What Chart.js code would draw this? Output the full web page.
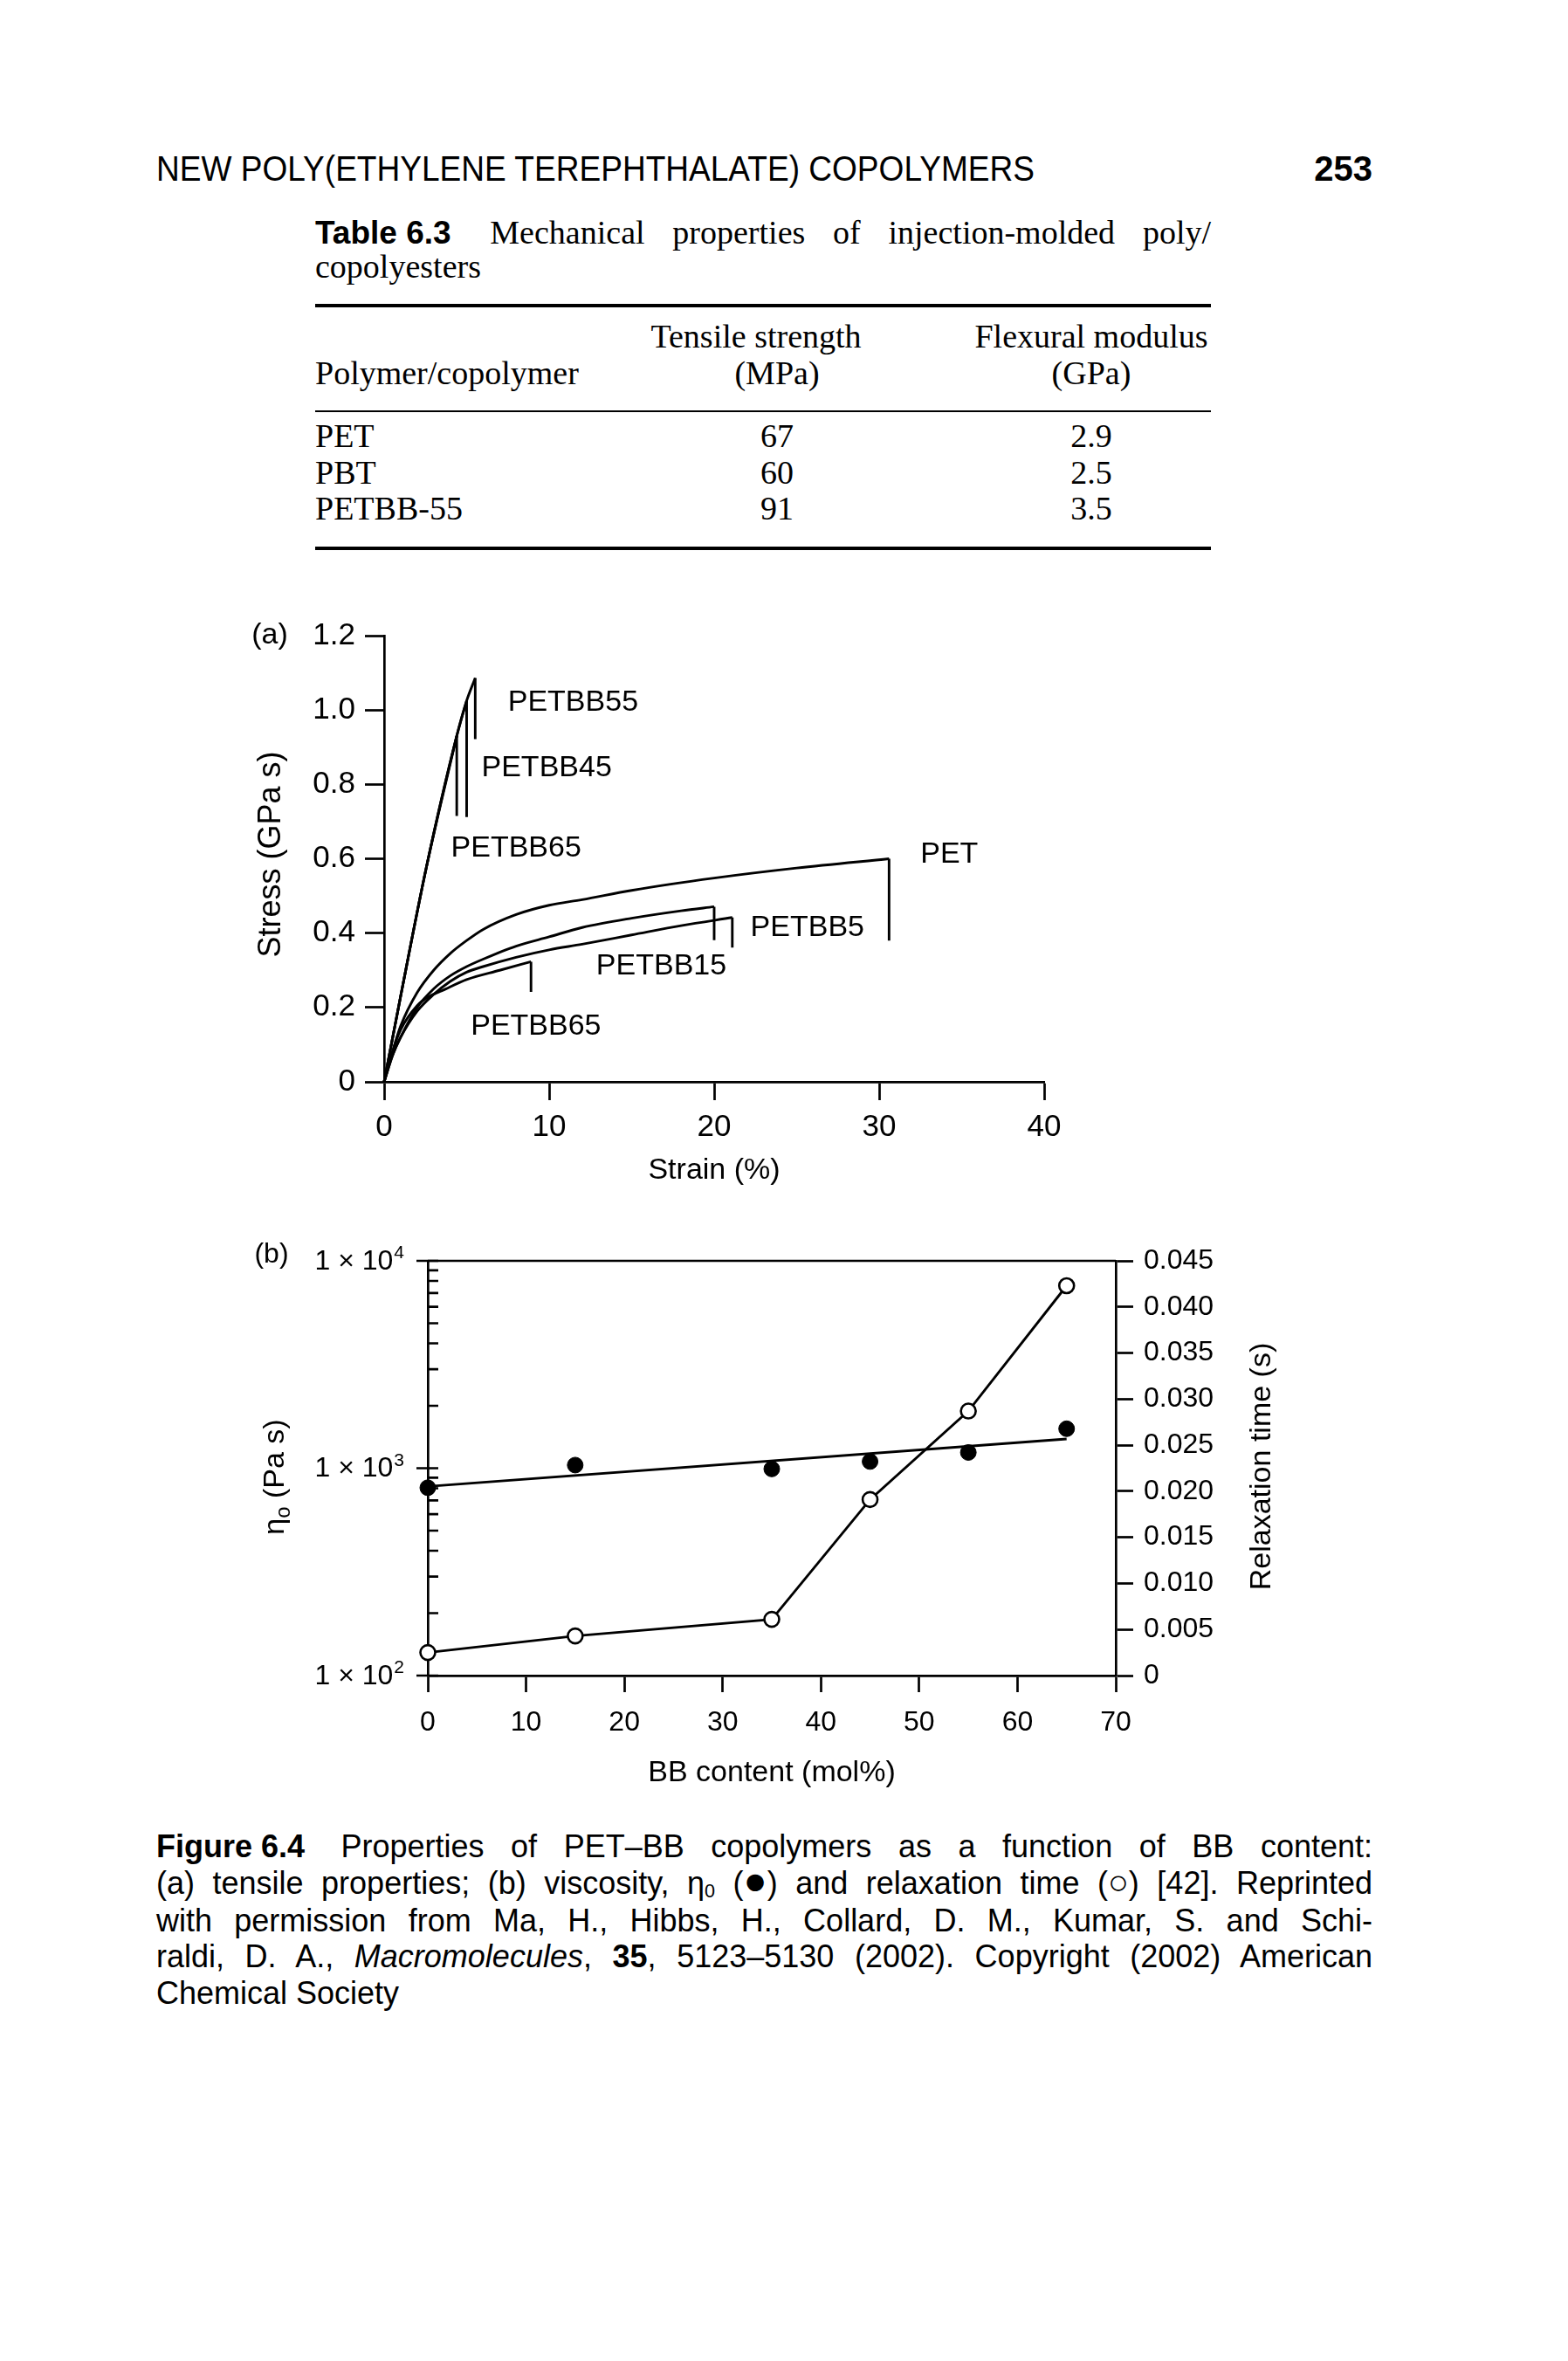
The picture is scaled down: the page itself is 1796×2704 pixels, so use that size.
<!DOCTYPE html>
<html>
<head>
<meta charset="utf-8">
<script src="https://cdn.jsdelivr.net/npm/chart.js@4.4.1/dist/chart.umd.min.js"></script>
<style>
  html, body { margin: 0; padding: 0; background: #fff; }
  body { width: 1796px; height: 2704px; position: relative; overflow: hidden; color: #000; }
  .t { position: absolute; white-space: nowrap; line-height: 1; transform-origin: 0 0; }
  .sans { font-family: "Liberation Sans", Arial, sans-serif; }
  .serif { font-family: "Liberation Serif", "Times New Roman", serif; }
  .ns { word-spacing: 0; }
  .rule { position: absolute; background: #000; left: 361px; width: 1026px; }
  canvas { position: absolute; }
</style>
</head>
<body>

<!-- running head -->
<div class="t sans" data-x="179" data-base="207" data-fs="40" data-fit="1006">NEW POLY(ETHYLENE TEREPHTHALATE) COPOLYMERS</div>
<div class="t sans" data-x="1572" data-base="207" data-fs="40" data-align="right"><b>253</b></div>

<!-- table 6.3 -->
<div class="t serif" data-x="361" data-base="279" data-fs="38" data-just="1026"><b class="sans ns" style="font-size:37px;margin-right:0.35em">Table 6.3</b> Mechanical properties of injection-molded poly/</div>
<div class="t serif" data-x="361" data-base="318" data-fs="38">copolyesters</div>
<div class="rule" style="top:348px;height:4px"></div>
<div class="t serif" data-x="866" data-base="398" data-fs="38" data-align="center">Tensile strength</div>
<div class="t serif" data-x="1250" data-base="398" data-fs="38" data-align="center">Flexural modulus</div>
<div class="t serif" data-x="361" data-base="440" data-fs="38">Polymer/copolymer</div>
<div class="t serif" data-x="890" data-base="440" data-fs="38" data-align="center">(MPa)</div>
<div class="t serif" data-x="1250" data-base="440" data-fs="38" data-align="center">(GPa)</div>
<div class="rule" style="top:470px;height:2px"></div>
<div class="t serif" data-x="361" data-base="512" data-fs="38">PET</div>
<div class="t serif" data-x="890" data-base="512" data-fs="38" data-align="center">67</div>
<div class="t serif" data-x="1250" data-base="512" data-fs="38" data-align="center">2.9</div>
<div class="t serif" data-x="361" data-base="554" data-fs="38">PBT</div>
<div class="t serif" data-x="890" data-base="554" data-fs="38" data-align="center">60</div>
<div class="t serif" data-x="1250" data-base="554" data-fs="38" data-align="center">2.5</div>
<div class="t serif" data-x="361" data-base="595" data-fs="38">PETBB-55</div>
<div class="t serif" data-x="890" data-base="595" data-fs="38" data-align="center">91</div>
<div class="t serif" data-x="1250" data-base="595" data-fs="38" data-align="center">3.5</div>
<div class="rule" style="top:626px;height:4px"></div>

<canvas id="chartA" width="1000" height="700" style="left:250px;top:690px"></canvas>
<canvas id="chartB" width="1300" height="680" style="left:250px;top:1400px"></canvas>

<!-- figure caption -->
<div class="t sans cap" data-x="179" data-base="2127" data-fs="36" data-just="1393"><b class="ns" style="margin-right:0.3em">Figure 6.4</b> Properties of PET–BB copolymers as a function of BB content:</div>
<div class="t sans cap" data-x="179" data-base="2169" data-fs="36" data-just="1393">(a) tensile properties; (b) viscosity, η<span style="font-size:0.6em;vertical-align:-0.2em">0</span> (<span style="font-size:1.25em;line-height:0">●</span>) and relaxation time (<span style="font-size:1.1em;line-height:0">○</span>) [42]. Reprinted</div>
<div class="t sans cap" data-x="179" data-base="2212" data-fs="36" data-just="1393">with permission from Ma, H., Hibbs, H., Collard, D. M., Kumar, S. and Schi-</div>
<div class="t sans cap" data-x="179" data-base="2253" data-fs="36" data-just="1393">raldi, D. A., <i>Macromolecules</i>, <b>35</b>, 5123–5130 (2002). Copyright (2002) American</div>
<div class="t sans cap" data-x="179" data-base="2295" data-fs="36">Chemical Society</div>

<script>
// ---- (a) stress-strain curves: strain (%), stress (GPa) ----
const petStrain  = [0, 0.5, 1, 2, 3, 4, 5, 6, 8, 10, 12, 15, 20, 25, 30.6];
const petStress  = [0, 0.08, 0.15, 0.24, 0.30, 0.345, 0.38, 0.41, 0.45, 0.475, 0.49, 0.515, 0.548, 0.575, 0.60];
const petDrop = 0.38;

const bb5Strain  = [0, 0.5, 1, 2, 3, 4, 5, 6, 8, 10, 12, 15, 18, 20];
const bb5Stress  = [0, 0.07, 0.12, 0.20, 0.25, 0.285, 0.31, 0.33, 0.365, 0.39, 0.415, 0.44, 0.46, 0.471];
const bb5Drop = 0.381;

const bb15Strain = [0, 0.5, 1, 2, 3, 4, 5, 6, 8, 10, 12, 15, 18, 21.1];
const bb15Stress = [0, 0.07, 0.12, 0.19, 0.235, 0.27, 0.295, 0.31, 0.335, 0.355, 0.37, 0.395, 0.42, 0.442];
const bb15Drop = 0.361;

const bb65Strain = [0, 0.5, 1, 2, 2.75, 3.5, 5, 7, 8.9];
const bb65Stress = [0, 0.08, 0.14, 0.205, 0.23, 0.245, 0.275, 0.30, 0.323];
const bb65Drop = 0.242;

const bb65hStrain = [0, 1, 2.56, 4.4];
const bb65hStress = [0, 0.23, 0.577, 0.93];
const bb65hDrop = 0.715;

const bb45Strain = [0, 1, 2.56, 4.4, 5.0];
const bb45Stress = [0, 0.23, 0.577, 0.93, 1.025];
const bb45Drop = 0.712;

const bb55Strain = [0, 1, 2.56, 4.4, 5.0, 5.52];
const bb55Stress = [0, 0.23, 0.577, 0.93, 1.025, 1.086];
const bb55Drop = 0.922;

const curveLabels = ['PETBB55', 'PETBB45', 'PETBB65', 'PET', 'PETBB5', 'PETBB15', 'PETBB65'];
const labelStrain = [7.5, 5.9, 4.05, 32.5, 22.2, 12.85, 5.25];
const labelStress = [1.02, 0.845, 0.628, 0.612, 0.414, 0.312, 0.15];

// ---- (b) viscosity and relaxation time vs BB content ----
const bbContent = [0, 15, 35, 45, 55, 65];
const viscosity = [805, 1035, 992, 1077, 1191, 1550];   // Pa s
const relaxTime = [0.0025, 0.0043, 0.0061, 0.0191, 0.0287, 0.0423]; // s
const fitContent = [0, 65];
const fitViscosity = [817, 1384];
const etaTickValues = [100, 1000, 10000];
const etaTickExp = ['2', '3', '4'];

// ---- text layout ----
const capLines = [...document.querySelectorAll('.cap')];
capLines.forEach(el => { el.style.fontSize = el.dataset.fs + 'px'; });
const capW2 = capLines[1].getBoundingClientRect().width;
const capScale = Math.min(1, 1393 / capW2 * 0.99);
capLines.forEach(el => { el.dataset.sx = capScale; });

document.querySelectorAll('.t').forEach(el => {
  const d = el.dataset, fs = +d.fs;
  el.style.fontSize = fs + 'px';
  const k = el.classList.contains('serif') ? 0.838 : 0.847;
  el.style.top = (+d.base - k * fs) + 'px';
  let sx = d.sx ? +d.sx : 1;
  if (d.just) {
    const target = +d.just / sx;
    el.style.wordSpacing = '0px';
    const w0 = el.getBoundingClientRect().width;
    el.style.wordSpacing = '10px';
    const w1 = el.getBoundingClientRect().width;
    el.style.wordSpacing = (10 * (target - w0) / (w1 - w0)) + 'px';
  }
  const w = el.getBoundingClientRect().width;
  if (d.fit) sx = +d.fit / w;
  let left = +d.x;
  if (d.align === 'center') left -= w * sx / 2;
  if (d.align === 'right') left -= w * sx;
  el.style.left = left + 'px';
  if (sx !== 1) el.style.transform = 'scaleX(' + sx + ')';
});

// ---- charts ----
const FONT = '"Liberation Sans", Arial, sans-serif';
const LW = 2.9;   // data lines
const AW = 2.7;   // axes and ticks

const curvesA = [
  { strain: petStrain, stress: petStress, drop: petDrop },
  { strain: bb5Strain, stress: bb5Stress, drop: bb5Drop },
  { strain: bb15Strain, stress: bb15Stress, drop: bb15Drop },
  { strain: bb65Strain, stress: bb65Stress, drop: bb65Drop },
  { strain: bb65hStrain, stress: bb65hStress, drop: bb65hDrop },
  { strain: bb45Strain, stress: bb45Stress, drop: bb45Drop },
  { strain: bb55Strain, stress: bb55Stress, drop: bb55Drop }
];

const lineStyle = { showLine: true, borderColor: '#000', borderWidth: LW, pointRadius: 0, fill: false, clip: false };
const dsA = [];
curvesA.forEach(c => {
  const n = c.strain.length - 1;
  dsA.push({ ...lineStyle, cubicInterpolationMode: 'monotone',
    data: c.strain.map((x, i) => ({ x: x, y: c.stress[i] })) });
  dsA.push({ ...lineStyle, tension: 0,
    data: [{ x: c.strain[n], y: c.stress[n] }, { x: c.strain[n], y: c.drop }] });
});

const axisGrid = (len) => ({ drawOnChartArea: false, tickLength: len, tickWidth: AW, tickColor: '#000', color: '#000' });
const axisBorder = { color: '#000', width: AW };

const annotA = {
  id: 'annotA',
  afterDraw(chart) {
    const { ctx, chartArea: a, scales: { x, y } } = chart;
    ctx.save();
    ctx.fillStyle = '#000';
    ctx.font = '34px ' + FONT;
    ctx.textBaseline = 'middle';
    ctx.textAlign = 'left';
    curveLabels.forEach((t, i) => {
      ctx.fillText(t, x.getPixelForValue(labelStrain[i]), y.getPixelForValue(labelStress[i]));
    });
    ctx.textAlign = 'center';
    ctx.fillText('Strain (%)', (a.left + a.right) / 2, a.bottom + 102);
    ctx.fillText('(a)', a.left - 131, a.top);
    ctx.translate(a.left - 129, (a.top + a.bottom) / 2 - 5);
    ctx.rotate(-Math.PI / 2);
    ctx.font = '36px ' + FONT;
    ctx.fillText('Stress (GPa s)', 0, 0);
    ctx.restore();
  }
};

new Chart(document.getElementById('chartA'), {
  type: 'scatter',
  data: { datasets: dsA },
  options: {
    responsive: false, animation: false, events: [],
    layout: { padding: { top: 38, right: 54, left: 0, bottom: 0 } },
    plugins: { legend: { display: false }, tooltip: { enabled: false } },
    scales: {
      x: {
        type: 'linear', min: 0, max: 40,
        ticks: { stepSize: 10, color: '#000', padding: 10, maxRotation: 0, font: { family: FONT, size: 35 } },
        grid: axisGrid(21), border: axisBorder,
        afterFit: s => { s.height = 151; }
      },
      y: {
        type: 'linear', min: 0, max: 1.2,
        ticks: { stepSize: 0.2, color: '#000', padding: 11, font: { family: FONT, size: 35 },
          callback: v => (Math.abs(v) < 1e-9 ? '0' : v.toFixed(1)) },
        grid: axisGrid(22), border: axisBorder,
        afterFit: s => { s.width = 190; }
      }
    }
  },
  plugins: [annotA]
});

const annotB = {
  id: 'annotB',
  afterDraw(chart) {
    const { ctx, chartArea: a, scales: { y } } = chart;
    ctx.save();
    ctx.strokeStyle = '#000';
    ctx.fillStyle = '#000';
    ctx.lineWidth = AW;
    // top frame line
    ctx.beginPath();
    ctx.moveTo(a.left, a.top);
    ctx.lineTo(a.right, a.top);
    ctx.stroke();
    // log ticks on the left axis: majors cross the axis, minors point inward
    ctx.beginPath();
    for (let e = 0; e < etaTickValues.length; e++) {
      const dec = etaTickValues[e];
      const py = y.getPixelForValue(dec);
      ctx.moveTo(a.left - 13, py); ctx.lineTo(a.left + 12, py);
      if (e < etaTickValues.length - 1) {
        for (let m = 2; m <= 9; m++) {
          const pm = y.getPixelForValue(m * dec);
          ctx.moveTo(a.left, pm); ctx.lineTo(a.left + 12, pm);
        }
      }
    }
    ctx.stroke();
    // log tick labels with superscript exponent
    etaTickValues.forEach((v, i) => {
      const py = y.getPixelForValue(v);
      ctx.font = '21px ' + FONT;
      ctx.textBaseline = 'alphabetic';
      ctx.textAlign = 'right';
      const supW = ctx.measureText(etaTickExp[i]).width;
      const xr = a.left - 27;
      ctx.fillText(etaTickExp[i], xr, py - 3);
      ctx.font = '32px ' + FONT;
      ctx.textBaseline = 'middle';
      ctx.fillText('1 \u00d7 10', xr - supW - 1, py + 1);
    });
    // titles
    ctx.textBaseline = 'middle';
    ctx.textAlign = 'center';
    ctx.font = '34px ' + FONT;
    ctx.fillText('BB content (mol%)', (a.left + a.right) / 2, a.bottom + 112);
    ctx.font = '32px ' + FONT;
    ctx.fillText('(b)', a.left - 179, a.top - 7);

    ctx.save();
    ctx.translate(a.right + 168, (a.top + a.bottom) / 2 - 2);
    ctx.rotate(-Math.PI / 2);
    ctx.font = '34px ' + FONT;
    ctx.fillText('Relaxation time (s)', 0, 0);
    ctx.restore();

    ctx.save();
    ctx.translate(a.left - 174, (a.top + a.bottom) / 2 + 10);
    ctx.rotate(-Math.PI / 2);
    ctx.textAlign = 'left';
    ctx.font = '34px ' + FONT;
    const wEta = ctx.measureText('\u03b7').width;
    const wRest = ctx.measureText(' (Pa s)').width;
    ctx.font = '24px ' + FONT;
    const wSub = ctx.measureText('o').width;
    const x0 = -(wEta + wSub + wRest) / 2;
    ctx.font = '34px ' + FONT;
    ctx.fillText('\u03b7', x0, 0);
    ctx.font = '24px ' + FONT;
    ctx.fillText('o', x0 + wEta, 9);
    ctx.font = '34px ' + FONT;
    ctx.fillText(' (Pa s)', x0 + wEta + wSub, 0);
    ctx.restore();
    ctx.restore();
  }
};

new Chart(document.getElementById('chartB'), {
  type: 'scatter',
  data: {
    datasets: [
      { yAxisID: 'y2', showLine: true, tension: 0, clip: false,
        borderColor: '#000', borderWidth: LW,
        pointRadius: 8.5, pointBackgroundColor: '#fff', pointBorderColor: '#000', pointBorderWidth: 2.6,
        data: bbContent.map((x, i) => ({ x: x, y: relaxTime[i] })) },
      { yAxisID: 'y', showLine: false, clip: false,
        pointRadius: 9, pointBackgroundColor: '#000', pointBorderColor: '#000', pointBorderWidth: 1,
        data: bbContent.map((x, i) => ({ x: x, y: viscosity[i] })) },
      { yAxisID: 'y', showLine: true, tension: 0, clip: false,
        borderColor: '#000', borderWidth: LW, pointRadius: 0,
        data: fitContent.map((x, i) => ({ x: x, y: fitViscosity[i] })) }
    ]
  },
  options: {
    responsive: false, animation: false, events: [],
    layout: { padding: { top: 44, right: 0, left: 0, bottom: 0 } },
    plugins: { legend: { display: false }, tooltip: { enabled: false } },
    scales: {
      x: {
        type: 'linear', min: 0, max: 70,
        ticks: { stepSize: 10, color: '#000', padding: 16, maxRotation: 0, font: { family: FONT, size: 32 } },
        grid: axisGrid(19), border: axisBorder,
        afterFit: s => { s.height = 161; }
      },
      y: {
        type: 'logarithmic', position: 'left', min: 100, max: 10000,
        afterBuildTicks: s => { s.ticks = etaTickValues.map(v => ({ value: v })); },
        ticks: { display: false },
        grid: { drawOnChartArea: false, drawTicks: false },
        border: axisBorder,
        afterFit: s => { s.width = 240; }
      },
      y2: {
        type: 'linear', position: 'right', min: 0, max: 0.045,
        ticks: { stepSize: 0.005, color: '#000', padding: 12, font: { family: FONT, size: 32 },
          callback: v => (Math.abs(v) < 1e-9 ? '0' : v.toFixed(3)) },
        grid: axisGrid(20), border: axisBorder,
        afterFit: s => { s.width = 272; }
      }
    }
  },
  plugins: [annotB]
});
</script>
</body>
</html>
